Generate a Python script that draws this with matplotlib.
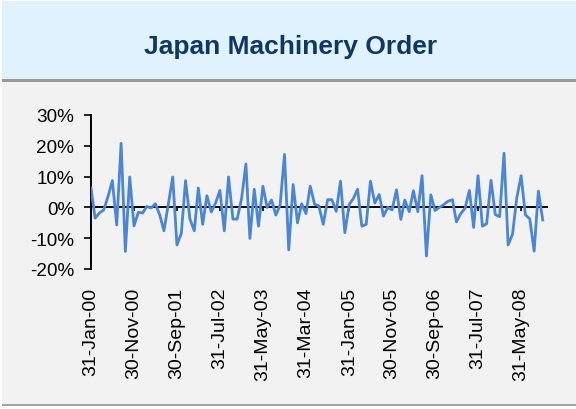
import matplotlib

matplotlib.use("Agg")
import matplotlib.dates as mdates
import matplotlib.pyplot as plt
import numpy as np
import pandas as pd
from matplotlib.patches import Rectangle
from matplotlib.ticker import FuncFormatter

plt.rcParams["font.family"] = ["Liberation Sans", "DejaVu Sans"]

TITLE = "Japan Machinery Order"

# monthly change of machinery orders, % (month-end dates from Jan 2000)
start_month = "2000-01-31"
order_change = [
    6.3, -3.5, -1.8, -0.8, 3.6, 8.7, -5.7, 20.8, -14.3, 9.9,
    -6.0, -1.6, -1.8, 0.3, -0.2, 1.2, -2.4, -7.6, 1.0, 9.9,
    -12.2, -8.4, 8.7, -3.8, -7.6, 6.3, -5.5, 3.8, -1.5, 1.4,
    5.5, -7.6, 9.9, -3.8, -3.8, 2.8, 14.1, -10.1, 5.9, -6.1,
    6.9, 0.0, 2.4, -2.5, 0.8, 17.2, -13.8, 7.4, -5.0, 1.2,
    -2.0, 6.9, 1.0, 0.5, -5.5, 2.5, 2.5, -1.3, 8.5, -8.2,
    1.0, 2.8, 5.9, -6.1, -5.5, 8.5, 1.4, 4.2, -2.8, 0.0,
    -0.8, 5.7, -3.9, 2.4, -1.4, 5.4, -1.4, 10.3, -15.8, 4.1,
    -1.0, 0.0, 0.9, 2.0, 2.5, -4.7, -2.0, -0.3, 5.5, -6.5,
    10.3, -6.1, -5.3, 8.8, -2.3, -3.0, 17.6, -12.2, -8.7, 3.0,
    10.3, -2.4, -3.7, -14.2, 5.3, -4.1,
]
label_step = 10  # label every 10th month

dates = pd.date_range(start_month, periods=len(order_change), freq="ME")
values = np.array(order_change)

W, H = 576, 410
fig = plt.figure(figsize=(W / 100, H / 100), dpi=100, facecolor="white")


def panel(x, y_top, w, h, color):
    # rectangle given in pixels from the top-left corner
    fig.patches.append(Rectangle((x / W, (H - y_top - h) / H), w / W, h / H,
                                 transform=fig.transFigure, facecolor=color,
                                 edgecolor="none", zorder=-5))


# panel background, header band and its shadow
panel(2, 81, 574, 326, "#a6a6a6")
panel(2, 81, 574, 324, "#f2f2f2")
panel(2, 80, 574, 3, "#9a9a9a")
panel(2, 2, 574, 78, "#dff2fd")
fig.text(291 / W, (H - 54) / H, TITLE, ha="center", va="baseline", fontsize=19,
         fontweight="bold", color="#0f3766")

ax = fig.add_axes([91 / W, (H - 270) / H, 456 / W, 154 / H])
ax.set_facecolor("none")
ax.plot(dates, values, color="#4a86d8", linewidth=2.0, solid_joinstyle="round", zorder=3)

ax.set_ylim(-20, 30)
ax.set_yticks(np.arange(-20, 31, 10))
ax.yaxis.set_major_formatter(FuncFormatter(lambda v, _: f"{v:.0f}%"))
ax.set_xlim(dates[0], dates[-1] + pd.Timedelta(days=30))
ax.set_xticks(dates[::label_step])
ax.xaxis.set_major_formatter(mdates.DateFormatter("%d-%b-%y"))

for side in ("top", "right"):
    ax.spines[side].set_visible(False)
ax.spines["bottom"].set_position(("data", 0))
ax.spines["bottom"].set_linewidth(1.4)
ax.spines["left"].set_linewidth(1.4)

ax.tick_params(axis="y", direction="out", length=5, width=1.2, pad=7, labelsize=13.6,
               colors="black")
ax.tick_params(axis="x", direction="out", length=3, width=1.2, pad=54, labelsize=14,
               labelrotation=90)
for lbl in ax.get_xticklabels():
    lbl.set_va("top")
    lbl.set_ha("center")

fig.savefig("out.png", dpi=100, facecolor=fig.get_facecolor())
